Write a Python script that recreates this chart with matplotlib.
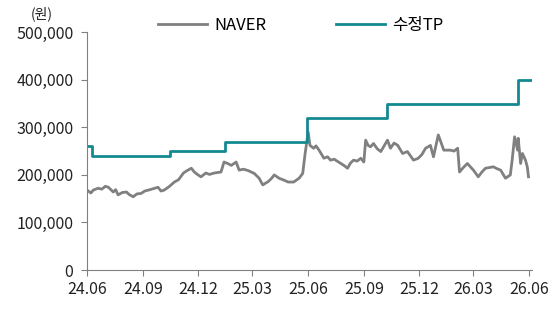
import matplotlib
matplotlib.use("Agg")
import matplotlib.pyplot as plt
import matplotlib.ticker as mticker
import pandas as pd

plt.rcParams["font.family"] = ["Noto Sans CJK KR", "DejaVu Sans"]

# NAVER 주가 (원)
price_dates = [
    "2024-06-03", "2024-06-07", "2024-06-11", "2024-06-19", "2024-06-25", "2024-07-01",
    "2024-07-06", "2024-07-14", "2024-07-18", "2024-07-22", "2024-07-29", "2024-08-05",
    "2024-08-09", "2024-08-16", "2024-08-22", "2024-08-29", "2024-09-04", "2024-09-10",
    "2024-09-18", "2024-09-26", "2024-10-01", "2024-10-06", "2024-10-14", "2024-10-23",
    "2024-10-30", "2024-11-07", "2024-11-13", "2024-11-20", "2024-11-25", "2024-12-01",
    "2024-12-06", "2024-12-14", "2024-12-20", "2024-12-28", "2025-01-08", "2025-01-13",
    "2025-01-19", "2025-01-25", "2025-02-02", "2025-02-07", "2025-02-14", "2025-02-22",
    "2025-03-04", "2025-03-12", "2025-03-18", "2025-03-27", "2025-04-01", "2025-04-06",
    "2025-04-14", "2025-04-22", "2025-04-29", "2025-05-08", "2025-05-17", "2025-05-23",
    "2025-05-27", "2025-06-01", "2025-06-04", "2025-06-10", "2025-06-14", "2025-06-19",
    "2025-06-27", "2025-07-03", "2025-07-08", "2025-07-14", "2025-07-20", "2025-07-30",
    "2025-08-05", "2025-08-10", "2025-08-15", "2025-08-21", "2025-08-27", "2025-09-01",
    "2025-09-04", "2025-09-08", "2025-09-12", "2025-09-17", "2025-09-23", "2025-09-29",
    "2025-10-10", "2025-10-15", "2025-10-21", "2025-10-27", "2025-11-04", "2025-11-12",
    "2025-11-17", "2025-11-22", "2025-11-30", "2025-12-06", "2025-12-12", "2025-12-20",
    "2025-12-25", "2026-01-02", "2026-01-06", "2026-01-11", "2026-01-22", "2026-01-28",
    "2026-02-03", "2026-02-06", "2026-02-12", "2026-02-19", "2026-02-24", "2026-03-01",
    "2026-03-09", "2026-03-15", "2026-03-21", "2026-04-03", "2026-04-09", "2026-04-15",
    "2026-04-23", "2026-05-01", "2026-05-04", "2026-05-08", "2026-05-13", "2026-05-14",
    "2026-05-18", "2026-05-21", "2026-05-26", "2026-05-29", "2026-05-31",
]
price_values = [
    166000, 162000, 168000, 172000, 170000, 176000,
    174000, 164000, 169000, 158000, 163000, 164000,
    159000, 154000, 160000, 161000, 166000, 168000,
    171000, 174000, 166000, 168000, 175000, 185000,
    190000, 204000, 209000, 214000, 206000, 200000,
    196000, 204000, 201000, 204000, 206000, 227000,
    224000, 220000, 227000, 210000, 212000, 209000,
    203000, 193000, 179000, 186000, 192000, 200000,
    193000, 189000, 185000, 185000, 193000, 203000,
    245000, 290000, 262000, 256000, 261000, 252000,
    235000, 238000, 231000, 233000, 228000, 220000,
    214000, 225000, 231000, 229000, 235000, 227000,
    273000, 262000, 259000, 266000, 255000, 249000,
    273000, 256000, 267000, 262000, 245000, 249000,
    240000, 231000, 235000, 243000, 256000, 262000,
    238000, 284000, 270000, 252000, 252000, 250000,
    256000, 206000, 215000, 224000, 217000, 210000,
    196000, 206000, 214000, 217000, 213000, 210000,
    193000, 200000, 231000, 280000, 252000, 277000,
    224000, 245000, 231000, 217000, 196000,
]

# 수정 목표주가 (원)
tp_dates = ["2024-06-01", "2024-06-09", "2024-10-16", "2025-01-14",
            "2025-05-30", "2025-10-10", "2026-05-13", "2026-06-04"]
tp_values = [260000, 240000, 250000, 270000, 320000, 350000, 400000, 400000]

tick_dates = ["2024-06-01", "2024-09-01", "2024-12-01", "2025-03-01", "2025-06-01",
              "2025-09-01", "2025-12-01", "2026-03-01", "2026-06-01"]
tick_labels = ["24.06", "24.09", "24.12", "25.03", "25.06", "25.09", "25.12", "26.03", "26.06"]

price_x = pd.to_datetime(price_dates)
tp_x = pd.to_datetime(tp_dates)

fig = plt.figure(figsize=(5.52, 3.09), dpi=100)
ax = fig.add_axes([0.158, 0.126, 0.806, 0.770])

ax.plot(price_x, price_values, color="#808080", linewidth=2.0, label="NAVER")
ax.plot(tp_x, tp_values, color="#138A90", linewidth=2.0, drawstyle="steps-post", label="수정TP")

ax.set_ylim(0, 500000)
ax.set_xlim(pd.Timestamp("2024-06-01"), pd.Timestamp("2026-06-06"))
ax.yaxis.set_major_locator(mticker.MultipleLocator(100000))
ax.yaxis.set_major_formatter(mticker.FuncFormatter(lambda v, p: f"{int(v):,}"))
ax.set_xticks(pd.to_datetime(tick_dates))
ax.set_xticklabels(tick_labels)

for s in ["top", "right"]:
    ax.spines[s].set_visible(False)
for s in ["left", "bottom"]:
    ax.spines[s].set_color("#808080")
    ax.spines[s].set_linewidth(0.8)
ax.tick_params(axis="both", direction="out", length=4, width=0.8, color="#808080",
               labelsize=11.5, labelcolor="#222222")
ax.tick_params(axis="y", pad=6)
ax.tick_params(axis="x", pad=4)

fig.text(0.075, 0.955, "(원)", fontsize=10, color="#222222", ha="center", va="center")

fig.legend(loc="center", bbox_to_anchor=(0.545, 0.918), ncol=2, frameon=False,
           fontsize=12, handlelength=2.9, columnspacing=4.2, handletextpad=0.45)

fig.savefig("out.png", dpi=100)
